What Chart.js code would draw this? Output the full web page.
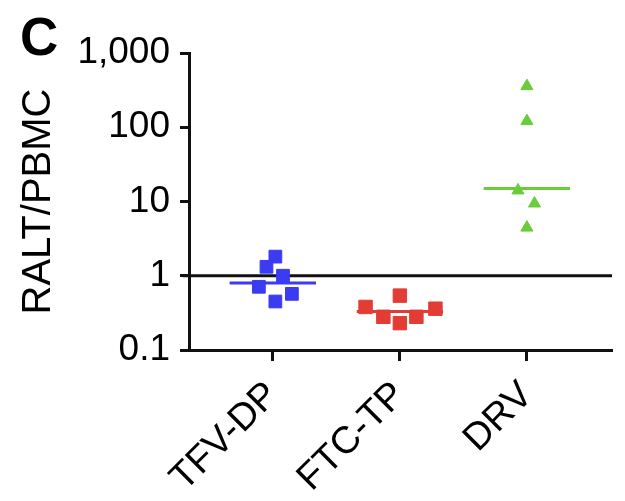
<!DOCTYPE html>
<html>
<head>
<meta charset="utf-8">
<script src="https://cdn.jsdelivr.net/npm/chart.js@4"></script>
<style>
  html, body { margin: 0; padding: 0; background: #fff; }
  #wrap { width: 625px; height: 501px; position: relative; }
</style>
</head>
<body>
<div id="wrap"><canvas id="chart"></canvas></div>
<script>
const categories = ['TFV-DP', 'FTC-TP', 'DRV'];
const yTicks = [0.1, 1, 10, 100, 1000];

// ratio values per drug
const tfvValues = [1.81, 1.32, 1.0, 0.71, 0.57, 0.45];
const ftcValues = [0.54, 0.38, 0.36, 0.28, 0.28, 0.23];
const drvValues = [358, 121, 14.1, 9.4, 4.45];

// horizontal scatter of points around each category
const tfvJitter = [0.02, -0.05, 0.08, -0.11, 0.15, 0.02];
const ftcJitter = [0.0, -0.27, 0.28, -0.13, 0.13, 0.0];
const drvJitter = [0.0, 0.0, -0.07, 0.06, 0.0];

const medians = [0.8, 0.33, 15];

const BLUE = '#3b3bf2';
const RED = '#e23c35';
const GREEN = '#6acc3a';
const FONT = '"Liberation Sans", Arial, sans-serif';

function points(center, values, jitter) {
    return values.map((v, i) => ({ x: center + jitter[i], y: v }));
}

function medianLine(center, value) {
    return [{ x: center - 0.34, y: value }, { x: center + 0.34, y: value }];
}

const textPlugin = {
    id: 'panelLetter',
    afterDraw(chart) {
        const ctx = chart.ctx;
        ctx.save();
        ctx.fillStyle = '#000';
        ctx.font = 'bold 53px ' + FONT;
        ctx.textBaseline = 'top';
        ctx.fillText('C', 20, 14);
        ctx.restore();
    }
};

const refLinePlugin = {
    id: 'refLine',
    beforeDatasetsDraw(chart) {
        const ctx = chart.ctx;
        const y = chart.scales.y.getPixelForValue(1);
        ctx.save();
        ctx.strokeStyle = '#111';
        ctx.lineWidth = 3;
        ctx.beginPath();
        ctx.moveTo(chart.chartArea.left - 6, y);
        ctx.lineTo(chart.chartArea.right, y);
        ctx.stroke();
        ctx.restore();
    }
};

new Chart(document.getElementById('chart'), {
    type: 'scatter',
    data: {
        datasets: [
            { data: points(1, tfvValues, tfvJitter), pointStyle: 'rect', pointRadius: 9, backgroundColor: BLUE, borderColor: BLUE, borderWidth: 1 },
            { data: points(2, ftcValues, ftcJitter), pointStyle: 'rect', pointRadius: 9.5, backgroundColor: RED, borderColor: RED, borderWidth: 1 },
            { data: points(3, drvValues, drvJitter), pointStyle: 'triangle', pointRadius: 7, backgroundColor: GREEN, borderColor: GREEN, borderWidth: 1 },
            { type: 'line', data: medianLine(1, medians[0]), borderColor: BLUE, borderWidth: 3, pointRadius: 0 },
            { type: 'line', data: medianLine(2, medians[1]), borderColor: RED, borderWidth: 3, pointRadius: 0 },
            { type: 'line', data: medianLine(3, medians[2]), borderColor: GREEN, borderWidth: 3, pointRadius: 0 }
        ]
    },
    options: {
        responsive: true,
        maintainAspectRatio: false,
        animation: false,
        layout: { padding: { top: 53, right: 13, left: 0, bottom: 0 } },
        plugins: {
            legend: { display: false },
            tooltip: { enabled: false }
        },
        scales: {
            x: {
                type: 'linear',
                min: 0.34,
                max: 3.67,
                afterBuildTicks: (scale) => { scale.ticks = [1, 2, 3].map(v => ({ value: v })); },
                afterFit: (scale) => { scale.height = 151; },
                grid: { display: true, drawOnChartArea: false, drawTicks: true, tickLength: 11, tickWidth: 3, color: '#111' },
                border: { display: true, width: 3, color: '#111' },
                ticks: {
                    color: '#000',
                    font: { size: 38, family: FONT },
                    minRotation: 45,
                    maxRotation: 45,
                    padding: 12,
                    callback: (value) => categories[value - 1] || ''
                }
            },
            y: {
                type: 'logarithmic',
                min: 0.1,
                max: 1000,
                afterBuildTicks: (scale) => { scale.ticks = yTicks.map(v => ({ value: v })); },
                afterFit: (scale) => { scale.width = 189; },
                grid: { display: true, drawOnChartArea: false, drawTicks: true, tickLength: 9, tickWidth: 3, color: '#111' },
                border: { display: true, width: 3, color: '#111' },
                title: {
                    display: true,
                    text: 'RALT/PBMC',
                    color: '#000',
                    font: { size: 40, family: FONT },
                    padding: { top: 15, bottom: 0 }
                },
                ticks: {
                    color: '#000',
                    font: { size: 37, family: FONT },
                    padding: 10,
                    callback: (value) => value >= 1000 ? value.toLocaleString('en-US') : String(value)
                }
            }
        }
    },
    plugins: [textPlugin, refLinePlugin]
});
</script>
</body>
</html>
